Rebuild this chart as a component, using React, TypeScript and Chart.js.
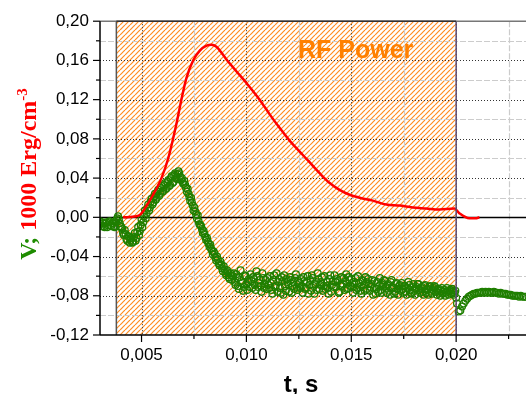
import { useEffect, useRef } from 'react';
import { Chart, registerables } from 'chart.js';

Chart.register(...registerables);

// ---- axis ranges & ticks ----
const xMin = 0.00302;
const xMax = 0.02333;
const yMin = -0.12;
const yMax = 0.2;
const xTickValues = [0.005, 0.01, 0.015, 0.02];
const xMinorValues = [0.0075, 0.0125, 0.0175, 0.0225];
const yTickValues = [-0.12, -0.08, -0.04, 0, 0.04, 0.08, 0.12, 0.16, 0.2];
const yMinorValues = [-0.1, -0.06, -0.02, 0.02, 0.06, 0.1, 0.14, 0.18];

// RF power on-interval (s)
const rfStart = 0.0038;
const rfEnd = 0.02;
const rfLabel = 'RF Power';
const xTitle = 't, s';

// ---- red series: RF energy (time in ms) ----
const redTimeMs = [
  4.12, 4.76, 4.95, 5.16, 5.55, 5.95, 6.27, 6.67, 6.9, 7.14,
  7.46, 7.78, 8.1, 8.33, 8.57, 9.05, 9.52, 10.0, 10.63, 11.11,
  11.59, 12.07, 12.54, 13.02, 13.49, 13.97, 14.44, 14.92, 15.4, 16.03,
  16.67, 17.3, 17.93, 18.57, 19.2, 19.92, 20.16, 20.63, 20.92, 21.11,
];
const redValues = [
  0.0, 0.001, 0.003, 0.009, 0.023, 0.04, 0.06, 0.096, 0.12, 0.142,
  0.16, 0.17, 0.175, 0.176, 0.174, 0.161, 0.149, 0.137, 0.12, 0.105,
  0.091, 0.078, 0.067, 0.056, 0.045, 0.035, 0.028, 0.023, 0.02, 0.017,
  0.013, 0.012, 0.01, 0.009, 0.008, 0.009, 0.004, -0.001, -0.001, 0.0,
];

// ---- green series: V (time in ms), first sampling set ----
const greenTimeMs = [
  3.0, 3.08, 3.16, 3.24, 3.32, 3.4, 3.48, 3.56, 3.64, 3.72,
  3.8, 3.88, 3.96, 4.04, 4.12, 4.2, 4.28, 4.36, 4.44, 4.52,
  4.6, 4.68, 4.76, 4.84, 4.92, 5.0, 5.08, 5.16, 5.24, 5.32,
  5.4, 5.48, 5.56, 5.64, 5.72, 5.8, 5.88, 5.96, 6.04, 6.12,
  6.2, 6.28, 6.36, 6.44, 6.52, 6.6, 6.68, 6.76, 6.84, 6.92,
  7.0, 7.08, 7.16, 7.24, 7.32, 7.4, 7.48, 7.56, 7.64, 7.72,
  7.8, 7.88, 7.96, 8.04, 8.12, 8.2, 8.28, 8.36, 8.44, 8.52,
  8.6, 8.68, 8.76, 8.84, 8.92, 9.0, 9.08, 9.16, 9.24, 9.32,
  9.4, 9.48, 9.56, 9.64, 9.72, 9.8, 9.88, 9.96, 10.04, 10.12,
  10.2, 10.28, 10.36, 10.44, 10.52, 10.6, 10.68, 10.76, 10.84, 10.92,
  11.0, 11.08, 11.16, 11.24, 11.32, 11.4, 11.48, 11.56, 11.64, 11.72,
  11.8, 11.88, 11.96, 12.04, 12.12, 12.2, 12.28, 12.36, 12.44, 12.52,
  12.6, 12.68, 12.76, 12.84, 12.92, 13.0, 13.08, 13.16, 13.24, 13.32,
  13.4, 13.48, 13.56, 13.64, 13.72, 13.8, 13.88, 13.96, 14.04, 14.12,
  14.2, 14.28, 14.36, 14.44, 14.52, 14.6, 14.68, 14.76, 14.84, 14.92,
  15.0, 15.08, 15.16, 15.24, 15.32, 15.4, 15.48, 15.56, 15.64, 15.72,
  15.8, 15.88, 15.96, 16.04, 16.12, 16.2, 16.28, 16.36, 16.44, 16.52,
  16.6, 16.68, 16.76, 16.84, 16.92, 17.0, 17.08, 17.16, 17.24, 17.32,
  17.4, 17.48, 17.56, 17.64, 17.72, 17.8, 17.88, 17.96, 18.04, 18.12,
  18.2, 18.28, 18.36, 18.44, 18.52, 18.6, 18.68, 18.76, 18.84, 18.92,
  19.0, 19.08, 19.16, 19.24, 19.32, 19.4, 19.48, 19.56, 19.64, 19.72,
  19.8, 19.88, 19.96, 20.04, 20.12, 20.2, 20.28, 20.36, 20.44, 20.52,
  20.6, 20.68, 20.76, 20.84, 20.92, 21.0, 21.08, 21.16, 21.24, 21.32,
  21.4, 21.48, 21.56, 21.64, 21.72, 21.8, 21.88, 21.96, 22.04, 22.12,
  22.2, 22.28, 22.36, 22.44, 22.52, 22.6, 22.68, 22.76, 22.84, 22.92,
  23.0, 23.08, 23.16, 23.24, 23.32,
];
const greenValues = [
  -0.004, -0.009, -0.006, -0.01, -0.005, -0.008, -0.004, -0.009, -0.006, -0.01,
  -0.003, 0.001, -0.006, -0.01, -0.016, -0.013, -0.022, -0.019, -0.026, -0.021,
  -0.025, -0.016, -0.021, -0.01, -0.014, -0.002, -0.005, 0.007, 0.004, 0.013,
  0.01, 0.019, 0.015, 0.024, 0.02, 0.028, 0.024, 0.032, 0.027, 0.035,
  0.03, 0.038, 0.033, 0.042, 0.036, 0.045, 0.039, 0.047, 0.041, 0.04,
  0.034, 0.033, 0.026, 0.024, 0.017, 0.015, 0.007, 0.006, -0.001, -0.004,
  -0.008, -0.012, -0.014, -0.02, -0.021, -0.027, -0.028, -0.034, -0.035, -0.041,
  -0.04, -0.047, -0.045, -0.052, -0.05, -0.057, -0.054, -0.061, -0.057, -0.064,
  -0.057, -0.069, -0.062, -0.073, -0.054, -0.067, -0.071, -0.06, -0.074, -0.063,
  -0.058, -0.072, -0.063, -0.074, -0.06, -0.067, -0.07, -0.057, -0.072, -0.064,
  -0.062, -0.072, -0.067, -0.078, -0.059, -0.07, -0.076, -0.063, -0.077, -0.065,
  -0.059, -0.075, -0.066, -0.076, -0.064, -0.07, -0.073, -0.058, -0.074, -0.067,
  -0.063, -0.077, -0.065, -0.072, -0.06, -0.069, -0.075, -0.062, -0.078, -0.066,
  -0.057, -0.073, -0.066, -0.075, -0.06, -0.07, -0.072, -0.063, -0.076, -0.065,
  -0.059, -0.071, -0.065, -0.076, -0.061, -0.068, -0.074, -0.058, -0.072, -0.064,
  -0.063, -0.077, -0.068, -0.074, -0.06, -0.071, -0.078, -0.065, -0.075, -0.066,
  -0.063, -0.075, -0.068, -0.079, -0.065, -0.073, -0.076, -0.062, -0.077, -0.069,
  -0.065, -0.077, -0.068, -0.079, -0.064, -0.072, -0.076, -0.067, -0.079, -0.069,
  -0.067, -0.077, -0.07, -0.079, -0.066, -0.074, -0.078, -0.068, -0.079, -0.071,
  -0.068, -0.077, -0.071, -0.079, -0.069, -0.074, -0.079, -0.07, -0.078, -0.072,
  -0.071, -0.079, -0.073, -0.08, -0.072, -0.076, -0.08, -0.072, -0.079, -0.074,
  -0.073, -0.079, -0.075, -0.088, -0.096, -0.095, -0.091, -0.088, -0.085, -0.083,
  -0.081, -0.08, -0.079, -0.078, -0.078, -0.077, -0.077, -0.077, -0.076, -0.077,
  -0.076, -0.077, -0.076, -0.077, -0.077, -0.076, -0.077, -0.077, -0.078, -0.077,
  -0.078, -0.078, -0.078, -0.079, -0.079, -0.079, -0.08, -0.08, -0.08, -0.08,
  -0.081, -0.08, -0.081, -0.081, -0.081,
];

// ---- green series: V, interleaved second sampling set (RF-on interval) ----
const greenTimeMs2 = [
  3.04, 3.12, 3.2, 3.28, 3.36, 3.44, 3.52, 3.6, 3.68, 3.76,
  3.84, 3.92, 4.0, 4.08, 4.16, 4.24, 4.32, 4.4, 4.48, 4.56,
  4.64, 4.72, 4.8, 4.88, 4.96, 5.04, 5.12, 5.2, 5.28, 5.36,
  5.44, 5.52, 5.6, 5.68, 5.76, 5.84, 5.92, 6.0, 6.08, 6.16,
  6.24, 6.32, 6.4, 6.48, 6.56, 6.64, 6.72, 6.8, 6.88, 6.96,
  7.04, 7.12, 7.2, 7.28, 7.36, 7.44, 7.52, 7.6, 7.68, 7.76,
  7.84, 7.92, 8.0, 8.08, 8.16, 8.24, 8.32, 8.4, 8.48, 8.56,
  8.64, 8.72, 8.8, 8.88, 8.96, 9.04, 9.12, 9.2, 9.28, 9.36,
  9.44, 9.52, 9.6, 9.68, 9.76, 9.84, 9.92, 10.0, 10.08, 10.16,
  10.24, 10.32, 10.4, 10.48, 10.56, 10.64, 10.72, 10.8, 10.88, 10.96,
  11.04, 11.12, 11.2, 11.28, 11.36, 11.44, 11.52, 11.6, 11.68, 11.76,
  11.84, 11.92, 12.0, 12.08, 12.16, 12.24, 12.32, 12.4, 12.48, 12.56,
  12.64, 12.72, 12.8, 12.88, 12.96, 13.04, 13.12, 13.2, 13.28, 13.36,
  13.44, 13.52, 13.6, 13.68, 13.76, 13.84, 13.92, 14.0, 14.08, 14.16,
  14.24, 14.32, 14.4, 14.48, 14.56, 14.64, 14.72, 14.8, 14.88, 14.96,
  15.04, 15.12, 15.2, 15.28, 15.36, 15.44, 15.52, 15.6, 15.68, 15.76,
  15.84, 15.92, 16.0, 16.08, 16.16, 16.24, 16.32, 16.4, 16.48, 16.56,
  16.64, 16.72, 16.8, 16.88, 16.96, 17.04, 17.12, 17.2, 17.28, 17.36,
  17.44, 17.52, 17.6, 17.68, 17.76, 17.84, 17.92, 18.0, 18.08, 18.16,
  18.24, 18.32, 18.4, 18.48, 18.56, 18.64, 18.72, 18.8, 18.88, 18.96,
  19.04, 19.12, 19.2, 19.28, 19.36, 19.44, 19.52, 19.6, 19.68, 19.76,
  19.84, 19.92, 20.0,
];
const greenValues2 = [
  -0.007, -0.005, -0.009, -0.006, -0.01, -0.005, -0.008, -0.006, -0.009, -0.005,
  -0.001, -0.002, -0.009, -0.012, -0.018, -0.017, -0.024, -0.02, -0.023, -0.026,
  -0.02, -0.024, -0.015, -0.018, -0.008, -0.01, 0.001, -0.001, 0.009, 0.007,
  0.016, 0.013, 0.021, 0.018, 0.026, 0.022, 0.03, 0.026, 0.033, 0.029,
  0.036, 0.032, 0.04, 0.035, 0.043, 0.04, 0.044, 0.045, 0.038, 0.036,
  0.037, 0.03, 0.029, 0.021, 0.02, 0.012, 0.01, 0.003, 0.002, -0.007,
  -0.009, -0.016, -0.017, -0.023, -0.025, -0.03, -0.032, -0.038, -0.037, -0.044,
  -0.043, -0.049, -0.048, -0.055, -0.053, -0.059, -0.056, -0.063, -0.059, -0.06,
  -0.066, -0.058, -0.07, -0.061, -0.065, -0.075, -0.059, -0.068, -0.066, -0.071,
  -0.065, -0.061, -0.069, -0.055, -0.071, -0.064, -0.076, -0.062, -0.068, -0.073,
  -0.069, -0.06, -0.074, -0.064, -0.071, -0.057, -0.066, -0.072, -0.061, -0.079,
  -0.07, -0.063, -0.068, -0.061, -0.077, -0.066, -0.062, -0.071, -0.065, -0.072,
  -0.07, -0.061, -0.073, -0.066, -0.078, -0.064, -0.059, -0.07, -0.068, -0.074,
  -0.063, -0.069, -0.061, -0.07, -0.073, -0.066, -0.078, -0.059, -0.069, -0.071,
  -0.066, -0.063, -0.077, -0.069, -0.07, -0.062, -0.065, -0.073, -0.061, -0.07,
  -0.071, -0.066, -0.062, -0.072, -0.067, -0.075, -0.064, -0.069, -0.061, -0.073,
  -0.068, -0.071, -0.064, -0.072, -0.078, -0.066, -0.07, -0.074, -0.067, -0.064,
  -0.072, -0.069, -0.075, -0.066, -0.071, -0.078, -0.068, -0.073, -0.07, -0.075,
  -0.073, -0.07, -0.076, -0.072, -0.069, -0.077, -0.071, -0.075, -0.073, -0.068,
  -0.074, -0.072, -0.076, -0.07, -0.077, -0.073, -0.071, -0.076, -0.074, -0.07,
  -0.076, -0.074, -0.077, -0.075, -0.078, -0.074, -0.077, -0.076, -0.075, -0.078,
  -0.076, -0.077, -0.082,
];

const SANS = 'Arial, "Liberation Sans", sans-serif';
const SERIF = '"Times New Roman", "Liberation Serif", serif';
const GREEN = '#1e8c00';
const MARKER = '#1f7f00';
const RED = '#ff0000';
const ORANGE = '#ff8000';

export default function App() {
  const ref = useRef<HTMLCanvasElement>(null);

  useEffect(() => {
    document.body.style.margin = '0';
    const canvas = ref.current!;
    const ctx = canvas.getContext('2d')!;

    const tile = document.createElement('canvas');
    tile.width = 5;
    tile.height = 5;
    const tc = tile.getContext('2d')!;
    tc.strokeStyle = '#ff8c1f';
    tc.lineWidth = 1.15;
    for (const k of [-5, 0, 5]) {
      tc.beginPath();
      tc.moveTo(k, 5);
      tc.lineTo(k + 5, 0);
      tc.stroke();
    }
    const hatch = ctx.createPattern(tile, 'repeat');

    const px = (v: number) => Math.round(v) + 0.5;

    const decor = {
      id: 'decor',
      beforeDatasetsDraw(chart: any) {
        const { ctx: c, chartArea: a, scales } = chart;
        const x = scales.x;
        const y = scales.y;
        c.save();
        const x0 = x.getPixelForValue(rfStart);
        const x1 = x.getPixelForValue(rfEnd);
        c.fillStyle = hatch;
        c.fillRect(x0, a.top, x1 - x0, a.bottom - a.top);

        // minor grid
        c.strokeStyle = '#cccccc';
        c.lineWidth = 1.2;
        c.setLineDash([6, 2]);
        for (const v of xMinorValues) {
          const p = px(x.getPixelForValue(v));
          c.beginPath(); c.moveTo(p, a.top); c.lineTo(p, a.bottom); c.stroke();
        }
        for (const v of yMinorValues) {
          const p = px(y.getPixelForValue(v));
          c.beginPath(); c.moveTo(a.left, p); c.lineTo(a.right, p); c.stroke();
        }
        // major grid (dotted)
        c.strokeStyle = '#333333';
        c.lineWidth = 1;
        c.setLineDash([1, 2]);
        for (const v of xTickValues) {
          const p = px(x.getPixelForValue(v));
          c.beginPath(); c.moveTo(p, a.top); c.lineTo(p, a.bottom); c.stroke();
        }
        for (const v of yTickValues) {
          if (v === 0 || v === yMin || v === yMax) continue;
          const p = px(y.getPixelForValue(v));
          c.beginPath(); c.moveTo(a.left, p); c.lineTo(a.right, p); c.stroke();
        }
        c.setLineDash([]);
        // zero line
        const z = px(y.getPixelForValue(0));
        c.strokeStyle = '#000';
        c.lineWidth = 1.5;
        c.beginPath(); c.moveTo(a.left, z); c.lineTo(a.right, z); c.stroke();
        // hatch left border
        c.strokeStyle = '#555555';
        c.lineWidth = 1.5;
        c.beginPath(); c.moveTo(x0, a.top); c.lineTo(x0, a.bottom); c.stroke();
        c.restore();
      },
      afterDatasetsDraw(chart: any) {
        const { ctx: c, chartArea: a, scales } = chart;
        const x = scales.x;
        const y = scales.y;
        c.save();
        const x0 = x.getPixelForValue(rfStart);
        const x1 = x.getPixelForValue(rfEnd);
        c.strokeStyle = '#5a4a72';
        c.lineWidth = 1.5;
        c.beginPath(); c.moveTo(x1, a.top); c.lineTo(x1, a.bottom); c.stroke();
        // frame
        c.strokeStyle = '#777777';
        c.lineWidth = 1.5;
        c.beginPath(); c.moveTo(a.left, a.top); c.lineTo(a.right, a.top); c.stroke();
        c.strokeStyle = '#333333';
        c.beginPath(); c.moveTo(x0, a.top); c.lineTo(x1, a.top); c.stroke();
        c.strokeStyle = '#000';
        c.lineWidth = 1.5;
        c.beginPath(); c.moveTo(a.left, a.top); c.lineTo(a.left, a.bottom); c.stroke();
        c.beginPath(); c.moveTo(a.left, a.bottom); c.lineTo(a.right, a.bottom); c.stroke();
        // tick marks
        c.lineWidth = 1.2;
        for (const v of yTickValues) {
          const p = y.getPixelForValue(v);
          c.beginPath(); c.moveTo(a.left - 7, p); c.lineTo(a.left, p); c.stroke();
        }
        for (const v of yMinorValues) {
          const p = y.getPixelForValue(v);
          c.beginPath(); c.moveTo(a.left - 4, p); c.lineTo(a.left, p); c.stroke();
        }
        for (const v of xTickValues) {
          const p = x.getPixelForValue(v);
          c.beginPath(); c.moveTo(p, a.bottom); c.lineTo(p, a.bottom + 7); c.stroke();
        }
        for (const v of xMinorValues) {
          const p = x.getPixelForValue(v);
          c.beginPath(); c.moveTo(p, a.bottom); c.lineTo(p, a.bottom + 4); c.stroke();
        }
        // RF Power label
        c.fillStyle = ORANGE;
        c.font = `bold 25px ${SANS}`;
        c.textAlign = 'left';
        c.textBaseline = 'alphabetic';
        c.fillText(rfLabel, 298, 58);
        // x title
        c.fillStyle = '#000';
        c.textAlign = 'center';
        c.font = `bold 24px ${SANS}`;
        c.fillText(xTitle, 301, 392);
        // y title (multi-colour, rotated)
        c.translate(36, 174);
        c.rotate(-Math.PI / 2);
        c.textAlign = 'left';
        const big = `bold 24px ${SERIF}`;
        const small = `bold 15px ${SERIF}`;
        c.font = big;
        const s1 = 'V; ';
        const s2 = '1000 Erg/cm';
        const s3 = '-3';
        const w1 = c.measureText(s1).width;
        const w2 = c.measureText(s2).width;
        c.font = small;
        const w3 = c.measureText(s3).width;
        let sx = -(w1 + w2 + w3) / 2;
        c.font = big;
        c.fillStyle = GREEN;
        c.fillText(s1, sx, 0);
        sx += w1;
        c.fillStyle = RED;
        c.fillText(s2, sx, 0);
        sx += w2;
        c.font = small;
        c.fillText(s3, sx, -9);
        c.restore();
      },
    };

    const greenPoints = greenTimeMs
      .map((t, i) => ({ x: t / 1000, y: greenValues[i] }))
      .concat(greenTimeMs2.map((t, i) => ({ x: t / 1000, y: greenValues2[i] })));

    const chart = new Chart(ctx, {
      type: 'scatter',
      data: {
        datasets: [
          {
            label: 'RF',
            data: redTimeMs.map((t, i) => ({ x: t / 1000, y: redValues[i] })),
            showLine: true,
            borderColor: RED,
            borderWidth: 2.5,
            pointRadius: 0,
            cubicInterpolationMode: 'monotone',
            order: 0,
          } as any,
          {
            label: 'V',
            data: greenPoints,
            showLine: false,
            pointRadius: 3.4,
            pointBorderWidth: 1.3,
            borderColor: MARKER,
            pointBorderColor: MARKER,
            backgroundColor: 'rgba(0,0,0,0)',
            pointBackgroundColor: 'rgba(0,0,0,0)',
            order: 1,
          } as any,
        ],
      },
      options: {
        responsive: false,
        animation: false,
        devicePixelRatio: 1,
        layout: { autoPadding: false, padding: { top: 17, right: 0, left: 0, bottom: 0 } },
        plugins: { legend: { display: false }, tooltip: { enabled: false } },
        scales: {
          x: {
            type: 'linear',
            min: xMin,
            max: xMax,
            afterBuildTicks: (s: any) => {
              s.ticks = xTickValues.map((v) => ({ value: v }));
            },
            afterFit: (s: any) => {
              s.height = 59;
            },
            grid: { display: false, drawTicks: false },
            border: { display: false },
            ticks: {
              padding: 10,
              color: '#000',
              autoSkip: false,
              maxRotation: 0,
              font: { family: SANS, size: 17 },
              callback: (v: any) => Number(v).toFixed(3).replace('.', ','),
            },
          },
          y: {
            type: 'linear',
            min: yMin,
            max: yMax,
            afterBuildTicks: (s: any) => {
              s.ticks = yTickValues.map((v) => ({ value: v }));
            },
            afterFit: (s: any) => {
              s.width = 100;
            },
            grid: { display: false, drawTicks: false },
            border: { display: false },
            ticks: {
              padding: 11,
              color: '#000',
              autoSkip: false,
              font: { family: SANS, size: 17 },
              callback: (v: any) =>
                (Math.abs(Number(v)) < 1e-9 ? '0.00' : Number(v).toFixed(2)).replace('.', ','),
            },
          },
        },
      } as any,
      plugins: [decor],
    });

    return () => chart.destroy();
  }, []);

  return (
    <div style={{ width: 526, height: 394 }}>
      <canvas ref={ref} width={526} height={394} style={{ display: 'block' }} />
    </div>
  );
}
